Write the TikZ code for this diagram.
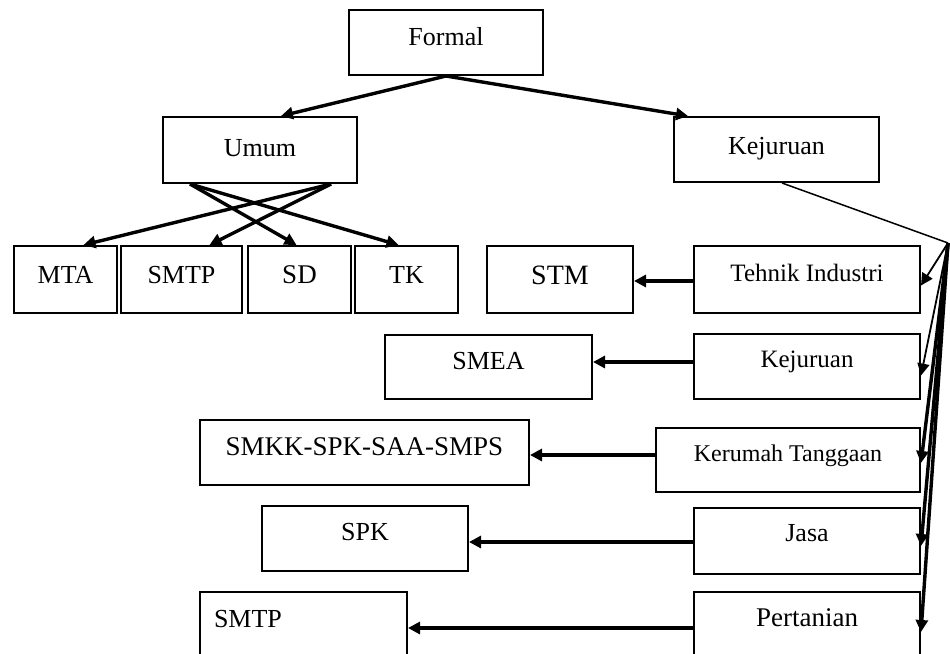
\documentclass[tikz,border=0pt]{standalone}
\usepackage{fontspec}
\setmainfont{Liberation Serif}
\usetikzlibrary{arrows.meta,calc}
\begin{document}
\begin{tikzpicture}[x=1pt,y=-1pt,
  bx/.style={draw, line width=2pt, rectangle, inner sep=0pt, anchor=north west,
             font=\fontsize{26}{30}\selectfont},
  arr/.style={line width=3.4pt, -{Triangle[length=12pt,width=12pt]}},
  thinarr/.style={line width=1.8pt, -{Triangle[length=12pt,width=12pt]}},
]
\useasboundingbox (0,0) rectangle (950,653);
\clip (0,0) rectangle (950,653);
% boxes
\node[bx, minimum width=194pt, text height=35pt, text depth=30pt] (formal) at (348,9) {Formal};
\node[bx, minimum width=194pt, text height=39pt, text depth=27pt] (umum) at (162,116) {Umum};
\node[bx, minimum width=205pt, text height=37pt, text depth=28pt] (kej) at (673,116) {Kejuruan};
\node[bx, minimum width=103pt, text height=37pt, text depth=30pt, font=\fontsize{26}{30}\selectfont] (mta) at (13,245) {MTA};
\node[bx, minimum width=121pt, text height=37pt, text depth=30pt, font=\fontsize{26}{30}\selectfont] (smtpa) at (120,245) {SMTP};
\node[bx, minimum width=103pt, text height=37pt, text depth=30pt, font=\fontsize{27}{30}\selectfont] (sd) at (247,245) {SD};
\node[bx, minimum width=103pt, text height=37pt, text depth=30pt, font=\fontsize{26}{30}\selectfont] (tk) at (354,245) {TK};
\node[bx, minimum width=146pt, text height=38pt, text depth=29pt, font=\fontsize{28}{30}\selectfont] (stm) at (486,245) {STM};
\node[bx, minimum width=226pt, text height=35pt, text depth=32pt, font=\fontsize{25}{30}\selectfont] (ti) at (693,245) {Tehnik Industri};
\node[bx, minimum width=207pt, text height=34pt, text depth=30pt, font=\fontsize{26}{30}\selectfont] (smea) at (384,334) {SMEA};
\node[bx, minimum width=226pt, text height=33pt, text depth=32pt, font=\fontsize{25}{30}\selectfont] (kr) at (693,333) {Kejuruan};
\node[bx, minimum width=329pt, text height=35pt, text depth=30pt, font=\fontsize{27}{30}\selectfont] (smkk) at (199,419) {SMKK-SPK-SAA-SMPS};
\node[bx, minimum width=264pt, text height=33pt, text depth=31pt, font=\fontsize{24}{30}\selectfont] (krt) at (655,427) {Kerumah Tanggaan};
\node[bx, minimum width=206pt, text height=34pt, text depth=31pt, font=\fontsize{26}{30}\selectfont] (spk) at (261,505) {SPK};
\node[bx, minimum width=226pt, text height=33pt, text depth=33pt, font=\fontsize{26}{30}\selectfont] (jasa) at (693,507) {Jasa};
\node[bx, text width=179pt, inner xsep=14pt, align=left, text height=35pt, text depth=45pt, font=\fontsize{26}{30}\selectfont] (smtpb) at (199,591) {SMTP};
\node[bx, minimum width=226pt, text height=34pt, text depth=46pt, font=\fontsize{27}{30}\selectfont] (pert) at (693,591) {Pertanian};
% top level arrows
\draw[arr] (formal.south) -- ([xshift=21pt]umum.north);
\draw[arr] (formal.south) -- ([xshift=15pt]kej.north west);
% crossing arrows from Umum
\draw[arr] ([xshift=71pt]umum.south) -- ([xshift=18pt]mta.north);
\draw[arr] ([xshift=71pt]umum.south) -- ([xshift=28pt]smtpa.north);
\draw[arr] ([xshift=-70pt]umum.south) -- ([xshift=-3pt]sd.north);
\draw[arr] ([xshift=-70pt]umum.south) -- ([xshift=-8pt]tk.north);
% fan from Kejuruan
\coordinate (hub) at (948,243);
\draw[line width=1.5pt] ([xshift=5.5pt]kej.south) -- (hub);
\draw[thinarr] (hub) -- ([yshift=-6pt]ti.east);
\draw[thinarr] (hub) -- ([yshift=-9pt]kr.east);
\draw[arr] (hub) -- ([yshift=-3pt]krt.east);
\draw[arr] (hub) -- ([yshift=-5pt]jasa.east);
\draw[arr] (hub) -- (pert.east);
% horizontal arrows
\draw[arr] (ti.west) ++(0,1.5) coordinate (h1) -- (h1 -| stm.east);
\draw[arr] (kr.west) ++(0,-4.5) coordinate (h2) -- (h2 -| smea.east);
\draw[arr] (krt.west) ++(0,-5) coordinate (h3) -- (h3 -| smkk.east);
\draw[arr] (jasa.west) ++(0,1) coordinate (h4) -- (h4 -| spk.east);
\draw[arr] (pert.west) ++(0,-4) coordinate (h5) -- (h5 -| smtpb.east);
\end{tikzpicture}
\end{document}
